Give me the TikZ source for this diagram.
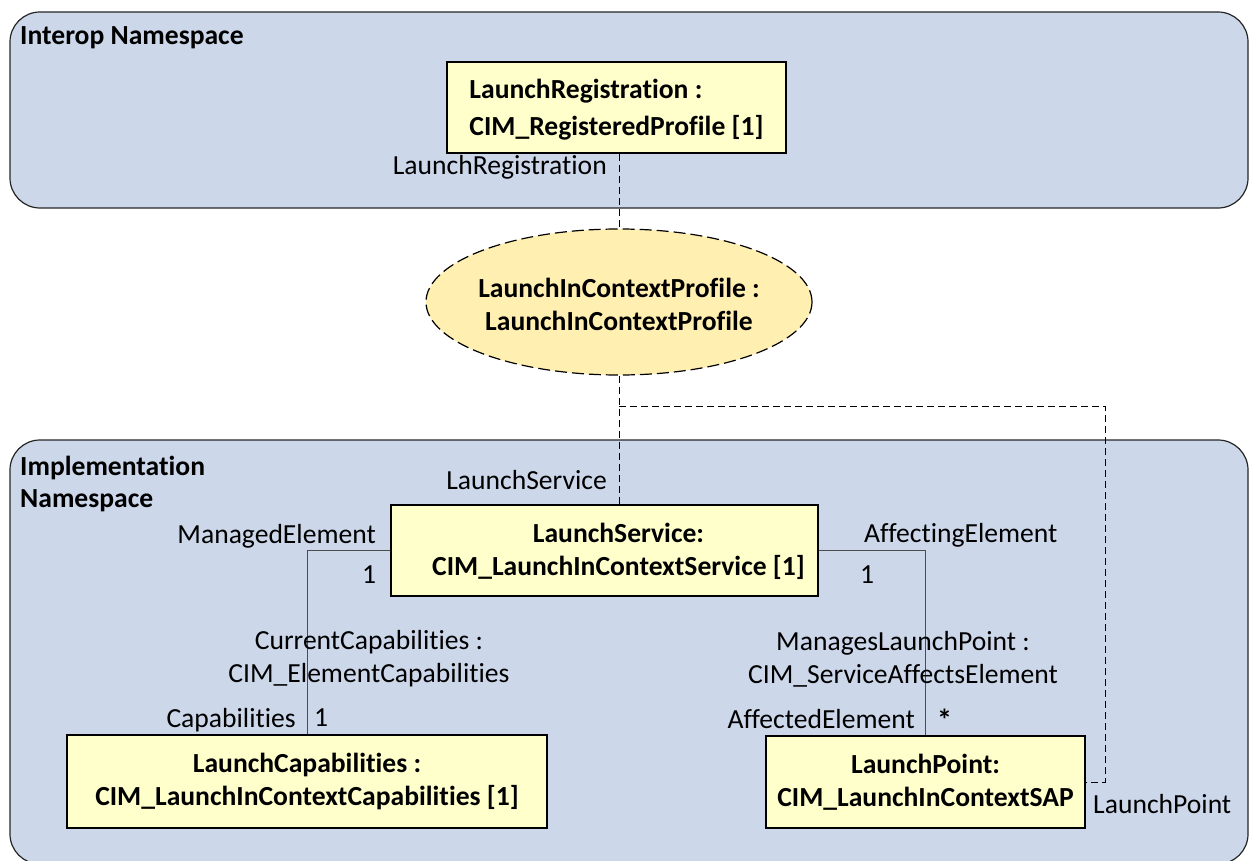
\documentclass[tikz,border=0pt]{standalone}
\usepackage{fontspec}
\setmainfont{Carlito}[Ligatures=NoCommon]
\usetikzlibrary{shapes.geometric}
\definecolor{nsfill}{HTML}{CCD7EA}
\definecolor{boxfill}{HTML}{FFFFCC}
\definecolor{ellfill}{HTML}{FFEFB0}
\begin{document}
\begin{tikzpicture}[x=1pt,y=-1pt]
\tikzset{
  ns/.style={draw=black!85, fill=nsfill, line width=1.2pt, rounded corners=30pt},
  obj/.style={draw=black, fill=boxfill, line width=1.5pt, inner sep=0pt, align=center,
              font=\bfseries\fontsize{27.6}{33}\selectfont},
  objtext/.style={inner sep=0pt, align=center, font=\bfseries\fontsize{27.6}{33}\selectfont},
  lbl/.style={inner sep=0pt, font=\fontsize{27.6}{33}\selectfont},
  title/.style={inner sep=0pt, align=left, font=\bfseries\fontsize{27.6}{32}\selectfont},
  assoc/.style={draw=black!70, line width=1pt},
  dep/.style={draw=black, line width=1pt, dash pattern=on 7pt off 4pt},
}
\useasboundingbox (0,0) rectangle (1249,861);

% namespaces
\begin{scope}
  \clip (0,0) rectangle (1249,861);
  \path[ns] (10,12) rectangle (1248,208);
  \path[ns] (10,440) rectangle (1248,864);
\end{scope}
\node[title, anchor=base west] (nsI) at (20,45) {Interop Namespace};
\node[title, anchor=base west] (nsM) at (20,507) {Implementation\\Namespace};

% instances
\node[obj, minimum width=339pt, minimum height=91pt] (lreg) at (616.5,107.5) {};
\node[objtext, align=left, font=\bfseries\fontsize{27.6}{37}\selectfont] (lregT) at (616.5,110)
      {LaunchRegistration :\\CIM\_RegisteredProfile [1]};
\node[obj, ellipse, fill=ellfill, dash pattern=on 12pt off 5pt, line width=1.2pt,
      minimum width=386pt, minimum height=146pt] (prof) at (619,302) {};
\node[objtext] (profT) at (619,304)
      {LaunchInContextProfile :\\LaunchInContextProfile};
\node[obj, minimum width=427pt, minimum height=91pt] (lsvc) at (604.5,550.5) {};
\node[objtext] (lsvcT) at (618.5,551.5)
      {LaunchService:\\CIM\_LaunchInContextService [1]};
\node[obj, minimum width=480pt, minimum height=93pt] (lcap) at (307,781.5)
      {LaunchCapabilities :\\CIM\_LaunchInContextCapabilities [1]};
\node[obj, minimum width=319pt, minimum height=92pt] (lpt) at (925.5,782)
      {LaunchPoint:\\CIM\_LaunchInContextSAP};

% connectors
\coordinate (turn) at (1105,406);
\draw[dep] (prof.north |- lreg.south) -- (prof.north);
\draw[dep] (prof.south) -- (prof.south |- lsvc.north);
\draw[dep] (prof.south |- turn) -- (turn) |- (lpt.east);
\draw[assoc] (lsvc.west) -| (lcap.north);
\draw[assoc] (lsvc.east) -| (lpt.north);

% role labels
\node[lbl, anchor=base east] (rReg) at (607,175) {LaunchRegistration};
\node[lbl, anchor=base east] (rSvc) at (607,489) {LaunchService};
\node[lbl, anchor=base east] (rMan) at (376,543) {ManagedElement};
\node[lbl, anchor=base west] (mMan) at (362,583) {1};
\node[lbl, anchor=base, align=center] (aCap) at (369,682)
      {CurrentCapabilities :\\CIM\_ElementCapabilities};
\node[lbl, anchor=base east] (rCap) at (296,727) {Capabilities};
\node[lbl, anchor=base west] (mCap) at (314,726) {1};
\node[lbl, anchor=base west] (rAff) at (864,542) {AffectingElement};
\node[lbl, anchor=base west] (mAff) at (860,583) {1};
\node[lbl, anchor=base, align=center] (aLp) at (903,683)
      {ManagesLaunchPoint :\\CIM\_ServiceAffectsElement};
\node[lbl, anchor=base east] (rAfd) at (915,728) {AffectedElement};
\node[lbl, anchor=base west, font=\bfseries\fontsize{30}{33}\selectfont] (mAfd) at (937,730) {*};
\node[lbl, anchor=base west] (rLp) at (1093,813) {LaunchPoint};
\end{tikzpicture}
\end{document}
